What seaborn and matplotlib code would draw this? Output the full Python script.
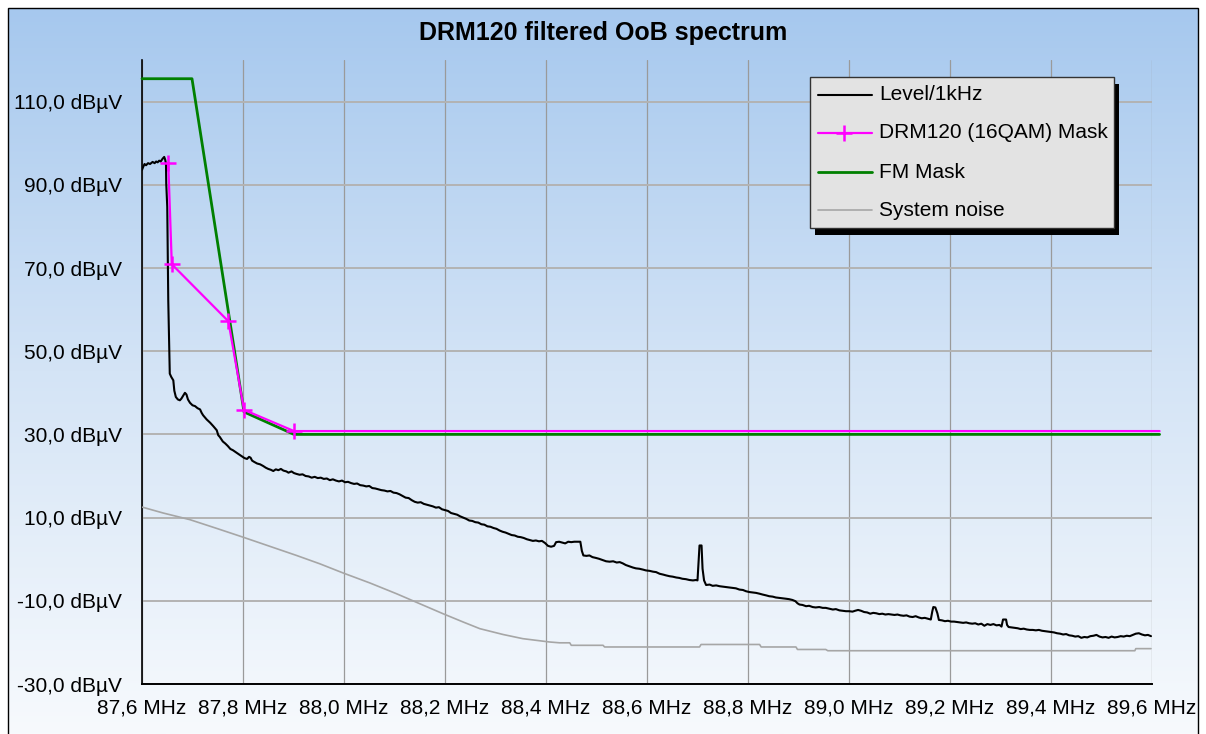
import numpy as np
import pandas as pd
import matplotlib
matplotlib.use("Agg")
import matplotlib.pyplot as plt
import seaborn as sns
from matplotlib.patches import Rectangle
from matplotlib.colors import LinearSegmentedColormap
from matplotlib.lines import Line2D

# ---------------- data ----------------
TITLE = "DRM120 filtered OoB spectrum"
series_names = ["Level/1kHz", "DRM120 (16QAM) Mask", "FM Mask", "System noise"]

x_ticks = [87.6, 87.8, 88.0, 88.2, 88.4, 88.6, 88.8, 89.0, 89.2, 89.4, 89.6]
x_tick_labels = ["87,6 MHz", "87,8 MHz", "88,0 MHz", "88,2 MHz", "88,4 MHz", "88,6 MHz",
                 "88,8 MHz", "89,0 MHz", "89,2 MHz", "89,4 MHz", "89,6 MHz"]
y_ticks = [-30, -10, 10, 30, 50, 70, 90, 110]
y_tick_labels = ["-30,0 dBµV", "-10,0 dBµV", "10,0 dBµV", "30,0 dBµV", "50,0 dBµV",
                 "70,0 dBµV", "90,0 dBµV", "110,0 dBµV"]

drm_freq = [87.652, 87.659, 87.771, 87.802, 87.901, 89.615]
drm_dbuv = [95.2, 70.9, 57.2, 35.9, 30.8, 30.8]

fm_freq = [87.600, 87.699, 87.802, 87.901, 89.615]
fm_dbuv = [115.5, 115.5, 35.4, 30.0, 30.0]

noise_freq = [87.601, 87.642, 87.695, 87.748, 87.800, 87.853, 87.906, 87.952, 87.998,
              88.051, 88.104, 88.150, 88.196, 88.236, 88.269, 88.315, 88.354, 88.407,
              88.427, 88.447, 88.450, 88.513, 88.516, 88.704, 88.707, 88.823, 88.826,
              88.895, 88.898, 88.954, 88.958, 89.566, 89.568, 89.598]
noise_dbuv = [12.5, 11.1, 9.5, 7.4, 5.3, 3.1, 0.9, -1.1, -3.3,
              -5.7, -8.3, -10.7, -13.1, -15.1, -16.7, -18.1, -19.1, -19.9,
              -20.1, -20.1, -20.7, -20.7, -21.1, -21.1, -20.5, -20.5, -21.1,
              -21.1, -21.7, -21.7, -22.0, -22.0, -21.5, -21.5]

# measured level, segment A: 87.600 - 88.468 MHz
level_freq_a = [
    87.600, 87.602, 87.605, 87.608, 87.612, 87.616, 87.621, 87.625, 87.628, 87.631,
    87.634, 87.637, 87.641, 87.644, 87.646, 87.6475, 87.648, 87.650, 87.652, 87.655,
    87.658, 87.662, 87.664, 87.667, 87.671, 87.675, 87.678, 87.682, 87.685, 87.688,
    87.691, 87.695, 87.700, 87.705, 87.710, 87.715, 87.718, 87.721, 87.728, 87.735,
    87.741, 87.748, 87.751, 87.754, 87.760, 87.765, 87.770, 87.775, 87.780, 87.787,
    87.792, 87.797, 87.803, 87.808, 87.812, 87.815, 87.818, 87.822, 87.828, 87.834,
    87.840, 87.845, 87.850, 87.855, 87.860, 87.865, 87.870, 87.875, 87.880, 87.886,
    87.890, 87.896, 87.901, 87.906, 87.912, 87.918, 87.924, 87.930, 87.936, 87.942,
    87.948, 87.954, 87.960, 87.966, 87.972, 87.978, 87.984, 87.990, 87.996, 88.002,
    88.008, 88.014, 88.020, 88.026, 88.032, 88.038, 88.044, 88.050, 88.056, 88.062,
    88.068, 88.074, 88.080, 88.086, 88.092, 88.098, 88.104, 88.110, 88.116, 88.122,
    88.128, 88.134, 88.140, 88.146, 88.152, 88.158, 88.164, 88.170, 88.176, 88.182,
    88.188, 88.194, 88.200, 88.206, 88.212, 88.218, 88.224, 88.230, 88.236, 88.242,
    88.248, 88.254, 88.260, 88.266, 88.272, 88.278, 88.284, 88.290, 88.296, 88.302,
    88.308, 88.314, 88.320, 88.326, 88.332, 88.338, 88.344, 88.350, 88.356, 88.362,
    88.368, 88.374, 88.380, 88.386, 88.392, 88.398, 88.404, 88.410, 88.416, 88.420,
    88.426, 88.432, 88.438, 88.444, 88.450, 88.456, 88.462, 88.468]
level_dbuv_a = [
    93.6, 94.2, 95.0, 94.7, 95.2, 95.0, 95.5, 95.2, 95.6, 95.4,
    95.8, 95.6, 96.3, 96.7, 96.0, 95.0, 90.3, 84.7, 62.2, 44.6,
    43.8, 43.0, 40.5, 39.0, 38.4, 38.2, 38.6, 39.4, 40.0, 39.6,
    38.4, 37.6, 37.0, 36.8, 36.3, 36.0, 35.2, 34.6, 33.6, 32.8,
    32.0, 31.0, 29.8, 29.4, 28.3, 27.8, 27.2, 26.5, 26.2, 25.6,
    25.2, 24.8, 24.3, 24.1, 24.6, 24.4, 23.7, 23.4, 23.0, 22.8,
    22.4, 22.0, 21.7, 21.5, 21.2, 21.6, 21.4, 21.7, 21.3, 21.1,
    20.8, 21.1, 20.7, 20.5, 20.3, 20.4, 20.0, 19.9, 19.6, 19.8,
    19.5, 19.6, 19.3, 19.4, 19.0, 19.2, 18.9, 18.7, 18.9, 18.5,
    18.6, 18.3, 18.1, 18.2, 17.8, 17.7, 17.5, 17.6, 17.1, 17.0,
    16.8, 16.6, 16.5, 16.3, 16.4, 16.0, 15.9, 15.6, 15.2, 14.8,
    14.7, 14.2, 13.8, 13.6, 13.7, 13.3, 13.1, 12.9, 12.7, 12.4,
    12.5, 12.0, 11.8, 11.6, 11.1, 10.9, 10.7, 10.3, 10.0, 9.7,
    9.3, 9.2, 8.9, 8.8, 8.4, 8.3, 7.9, 7.8, 7.5, 7.3,
    6.9, 6.6, 6.4, 6.1, 5.8, 5.7, 5.4, 5.3, 5.1, 4.8,
    4.6, 4.4, 4.5, 4.3, 4.4, 3.9, 3.2, 3.0, 3.2, 4.1,
    4.2, 4.0, 3.8, 4.2, 4.1, 4.2, 4.2, 4.2]

# segment B: 88.471 - 89.018 MHz
level_freq_b = [
    88.471, 88.474, 88.480, 88.486, 88.492, 88.499, 88.505, 88.512, 88.519, 88.526,
    88.533, 88.540, 88.546, 88.552, 88.558, 88.565, 88.572, 88.578, 88.585, 88.592,
    88.598, 88.605, 88.612, 88.618, 88.625, 88.632, 88.638, 88.645, 88.651, 88.658,
    88.664, 88.670, 88.677, 88.684, 88.691, 88.697, 88.700, 88.702, 88.704, 88.708,
    88.710, 88.713, 88.717, 88.724, 88.730, 88.737, 88.744, 88.750, 88.757, 88.763,
    88.770, 88.776, 88.783, 88.790, 88.796, 88.803, 88.810, 88.816, 88.823, 88.829,
    88.836, 88.842, 88.849, 88.855, 88.862, 88.868, 88.875, 88.881, 88.888, 88.894,
    88.898, 88.902, 88.908, 88.915, 88.921, 88.928, 88.934, 88.941, 88.948, 88.954,
    88.961, 88.968, 88.974, 88.981, 88.987, 88.994, 89.000, 89.007, 89.012, 89.018]
level_dbuv_b = [
    2.0, 0.9, 0.8, 0.9, 0.5, 0.3, 0.1, -0.2, -0.5, -0.6,
    -0.5, -0.8, -0.7, -1.0, -1.4, -1.7, -2.0, -2.2, -2.3, -2.5,
    -2.7, -2.8, -3.0, -3.1, -3.5, -3.7, -3.9, -4.1, -4.2, -4.4,
    -4.5, -4.7, -4.8, -5.0, -5.1, -5.0, -5.1, -1.0, 3.3, 3.3,
    -2.3, -5.1, -6.2, -6.1, -6.4, -6.3, -6.5, -6.6, -6.7, -6.8,
    -6.9, -7.0, -7.3, -7.4, -7.7, -7.9, -8.0, -8.1, -8.3, -8.5,
    -8.7, -8.9, -9.0, -9.2, -9.3, -9.4, -9.5, -9.6, -9.8, -10.1,
    -10.6, -10.9, -11.0, -11.3, -11.2, -11.5, -11.6, -11.5, -11.7, -11.7,
    -11.9, -12.1, -12.0, -12.3, -12.4, -12.5, -12.5, -12.6, -12.4, -12.2]

# segment C: 89.024 - 89.598 MHz
level_freq_c = [
    89.024, 89.030, 89.036, 89.042, 89.048, 89.054, 89.060, 89.066, 89.072, 89.078,
    89.084, 89.090, 89.096, 89.102, 89.108, 89.114, 89.120, 89.126, 89.132, 89.138,
    89.144, 89.150, 89.156, 89.162, 89.165, 89.167, 89.171, 89.175, 89.178, 89.184,
    89.190, 89.196, 89.202, 89.208, 89.214, 89.220, 89.226, 89.232, 89.238, 89.244,
    89.250, 89.256, 89.262, 89.268, 89.274, 89.280, 89.286, 89.292, 89.298, 89.302,
    89.305, 89.311, 89.313, 89.316, 89.322, 89.328, 89.334, 89.340, 89.346, 89.352,
    89.358, 89.364, 89.370, 89.376, 89.382, 89.388, 89.394, 89.400, 89.406, 89.412,
    89.418, 89.424, 89.430, 89.436, 89.442, 89.448, 89.454, 89.460, 89.466, 89.472,
    89.478, 89.484, 89.490, 89.496, 89.502, 89.508, 89.514, 89.520, 89.526, 89.532,
    89.538, 89.544, 89.550, 89.556, 89.562, 89.568, 89.574, 89.580, 89.586, 89.592,
    89.598]
level_dbuv_c = [
    -12.4, -12.7, -12.8, -13.1, -12.9, -13.0, -13.2, -13.1, -13.3, -13.2,
    -13.3, -13.4, -13.3, -13.5, -13.6, -13.5, -13.8, -13.9, -13.7, -14.0,
    -14.2, -14.1, -14.3, -14.5, -12.5, -11.5, -11.6, -13.0, -14.6, -14.7,
    -14.9, -14.8, -15.0, -15.0, -15.1, -15.2, -15.3, -15.2, -15.4, -15.5,
    -15.4, -15.7, -15.5, -16.0, -15.6, -15.8, -15.6, -15.9, -15.8, -16.2,
    -14.5, -14.5, -15.8, -16.3, -16.4, -16.5, -16.6, -16.8, -16.7, -16.9,
    -17.0, -17.0, -17.1, -17.0, -17.2, -17.3, -17.4, -17.5, -17.6, -17.8,
    -17.9, -18.1, -18.0, -18.3, -18.4, -18.6, -18.5, -18.9, -18.7, -18.8,
    -18.5, -18.4, -18.2, -18.6, -18.8, -18.7, -18.9, -18.6, -18.8, -18.7,
    -18.5, -18.6, -18.4, -18.5, -18.2, -17.9, -17.8, -18.1, -18.3, -18.2,
    -18.5]

level_freq = level_freq_a + level_freq_b + level_freq_c
level_dbuv = level_dbuv_a + level_dbuv_b + level_dbuv_c

# ---------------- figure ----------------
W, H = 1206, 734
DPI = 100
sns.set_style("white")
plt.rcParams["font.family"] = ["Liberation Sans", "DejaVu Sans"]
plt.rcParams["text.color"] = "black"
plt.rcParams["xtick.color"] = "black"
plt.rcParams["ytick.color"] = "black"

fig = plt.figure(figsize=(W / DPI, H / DPI), dpi=DPI)
fig.patch.set_facecolor("white")

def fx(px):
    return px / W

def fy(py):
    return 1 - py / H

# gradient background inside the outer frame
bg = fig.add_axes([fx(8), 0, fx(1198) - fx(8), fy(8)], zorder=-5)
grad = np.linspace(0, 1, 256).reshape(-1, 1)
cmap = LinearSegmentedColormap.from_list("bg", ["#a6c8ee", "#d4e4f6", "#f7fafd"])
bg.imshow(grad, aspect="auto", cmap=cmap, extent=[0, 1, 0, 1], origin="upper")
bg.set_axis_off()

fig.patches.append(Rectangle((fx(8), -0.01), fx(1198) - fx(8), fy(8) + 0.01,
                             transform=fig.transFigure, fill=False,
                             edgecolor="black", lw=1.0, zorder=10))

ax = fig.add_axes([fx(142), fy(684), fx(1152) - fx(142), fy(60) - fy(684)])
ax.set_facecolor("none")

level_df = pd.DataFrame({"freq": level_freq, "dbuv": level_dbuv})
noise_df = pd.DataFrame({"freq": noise_freq, "dbuv": noise_dbuv})
drm_df = pd.DataFrame({"freq": drm_freq, "dbuv": drm_dbuv})
fm_df = pd.DataFrame({"freq": fm_freq, "dbuv": fm_dbuv})

MAG = "#ff00ff"
sns.lineplot(data=noise_df, x="freq", y="dbuv", ax=ax, color="#a6a6a6", lw=1.2,
             estimator=None, sort=False, zorder=3)
sns.lineplot(data=level_df, x="freq", y="dbuv", ax=ax, color="black", lw=1.5,
             estimator=None, sort=False, zorder=4)
sns.lineplot(data=fm_df, x="freq", y="dbuv", ax=ax, color="#008000", lw=2.0,
             estimator=None, sort=False, zorder=5, clip_on=False)
sns.lineplot(data=drm_df, x="freq", y="dbuv", ax=ax, color=MAG, lw=1.6,
             marker="+", markersize=12, markeredgewidth=1.8, markeredgecolor=MAG,
             markerfacecolor=MAG, markevery=list(range(5)),
             estimator=None, sort=False, zorder=6, clip_on=False)

ax.set_xlim(87.6, 89.6)
ax.set_ylim(-30, 120)
ax.set_xticks(x_ticks)
ax.set_xticklabels(x_tick_labels)
ax.set_yticks(y_ticks)
ax.set_yticklabels(y_tick_labels)
ax.set_xlabel("")
ax.set_ylabel("")
ax.tick_params(axis="both", direction="inout", length=9, width=1.0, color="black",
               labelsize=15, labelcolor="black")
ax.tick_params(axis="y", pad=10)
ax.tick_params(axis="x", pad=6)

ax.grid(True, axis="x", color="#9a9a9a", lw=0.9, zorder=1)
ax.grid(True, axis="y", color="#b3b3b3", lw=1.4, zorder=1)
ax.set_axisbelow(True)
for s in ["top", "right"]:
    ax.spines[s].set_visible(False)
ax.spines["left"].set_color("black")
ax.spines["bottom"].set_color("black")
ax.spines["left"].set_linewidth(1.2)
ax.spines["bottom"].set_linewidth(1.4)

# title
fig.text(0.5, fy(33), TITLE, ha="center", va="center", fontsize=18,
         fontweight="bold", color="black")

# legend box with shadow
lx0, ly0, lx1, ly1 = 810, 77, 1114, 228
fig.patches.append(Rectangle((fx(lx0 + 5), fy(ly1 + 7)), fx(lx1 - lx0), fy(ly0) - fy(ly1),
                             transform=fig.transFigure, facecolor="black",
                             edgecolor="black", lw=0, zorder=20))
fig.patches.append(Rectangle((fx(lx0), fy(ly1)), fx(lx1 - lx0), fy(ly0) - fy(ly1),
                             transform=fig.transFigure, facecolor="#e3e3e3",
                             edgecolor="#333333", lw=1.0, zorder=21))
leg_colors = ["black", MAG, "#008000", "#a6a6a6"]
leg_widths = [1.5, 1.6, 2.0, 1.2]
leg_markers = [False, True, False, False]
row_y = [95, 133, 172, 210]
for name, c, lw_, mk_, yy in zip(series_names, leg_colors, leg_widths, leg_markers, row_y):
    fig.lines.append(Line2D([fx(818), fx(872)], [fy(yy), fy(yy)], transform=fig.transFigure,
                            color=c, lw=lw_, zorder=22))
    if mk_:
        fig.lines.append(Line2D([fx(844)], [fy(yy)], transform=fig.transFigure, color=c,
                                marker="+", markersize=12, markeredgewidth=1.8, lw=0,
                                zorder=23))
    fig.text(fx(879), fy(yy), name, ha="left", va="center", fontsize=15, zorder=24,
             color="black")

fig.savefig("out.png", dpi=DPI)
